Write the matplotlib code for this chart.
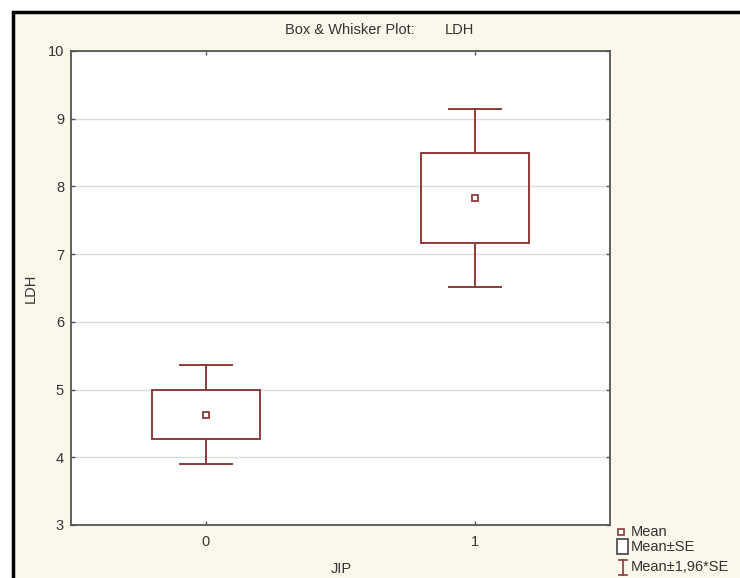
import numpy as np
import matplotlib.pyplot as plt
from matplotlib.patches import Rectangle
from matplotlib.lines import Line2D

plt.rcParams['font.family'] = ['Liberation Sans', 'DejaVu Sans']

groups = [0, 1]
tick_labels = ['0', '1']
means = [4.62, 7.83]
se_low = [4.27, 7.16]
se_high = [5.00, 8.50]
ci_low = [3.90, 6.52]
ci_high = [5.36, 9.15]

RED = '#8b3a3a'
CREAM = '#fbf7ea'
TXT = '#333333'
W, H = 740, 578


def fx(px):
    return px / W


def fy(py):
    return 1 - py / H


fig = plt.figure(figsize=(7.4, 5.78), dpi=100, facecolor='white')
# cream panel with black frame (cut off at right/bottom like the screenshot)
fig.patches.append(Rectangle((fx(13), -0.1), 1.2, fy(12) + 0.1, transform=fig.transFigure,
                             facecolor=CREAM, edgecolor='black', linewidth=2.5, zorder=-5))

ax = fig.add_axes([fx(71), fy(525), fx(610) - fx(71), fy(51) - fy(525)])
ax.set_zorder(1)
ax.set_facecolor('white')

x = np.array(groups)
ax.bar(x, np.array(se_high) - np.array(se_low), bottom=se_low, width=0.4,
       fill=False, edgecolor=RED, linewidth=1.4, zorder=3)
ax.vlines(x, se_high, ci_high, color=RED, linewidth=1.4, zorder=3)
ax.vlines(x, ci_low, se_low, color=RED, linewidth=1.4, zorder=3)
ax.hlines(ci_high, x - 0.1, x + 0.1, color=RED, linewidth=1.4, zorder=3)
ax.hlines(ci_low, x - 0.1, x + 0.1, color=RED, linewidth=1.4, zorder=3)
ax.plot(x, means, 's', markersize=5, markerfacecolor='white',
        markeredgecolor=RED, markeredgewidth=1.3, linestyle='none', zorder=4)

ax.set_xlim(-0.5, 1.5)
ax.set_ylim(3, 10)
ax.set_xticks(groups)
ax.set_xticklabels(tick_labels)
ax.set_yticks(range(3, 11))
ax.yaxis.grid(True, color='#dcdcdc', linewidth=1)
ax.set_axisbelow(True)
ax.tick_params(direction='in', length=3, width=1, color='#555555',
               top=True, right=True, labelsize=10.5, labelcolor=TXT)
ax.tick_params(axis='x', pad=7)
ax.tick_params(axis='y', pad=5)
for s in ax.spines.values():
    s.set_color('#555555')
    s.set_linewidth(1.3)

ax.set_ylabel('LDH', fontsize=10.5, color=TXT, labelpad=7)
fig.text(fx(341), fy(569), 'JIP', ha='center', va='center', fontsize=10.5, color=TXT)

fig.text(fx(285), fy(30), 'Box & Whisker Plot:', ha='left', va='center', fontsize=10.5, color=TXT)
fig.text(fx(445), fy(30), 'LDH', ha='left', va='center', fontsize=10.5, color=TXT)

# legend
fig.lines.append(Line2D([fx(621)], [fy(532)], marker='s', markersize=4.5, markerfacecolor='white',
                        markeredgecolor=RED, markeredgewidth=1.2, transform=fig.transFigure))
fig.text(fx(631), fy(532), 'Mean', ha='left', va='center', fontsize=10.5, color=TXT)
fig.patches.append(Rectangle((fx(617), fy(554)), fx(11), fy(539) - fy(554), transform=fig.transFigure,
                             facecolor='white', edgecolor='#444444', linewidth=1.2))
fig.text(fx(631), fy(547), 'Mean±SE', ha='left', va='center', fontsize=10.5, color=TXT)
fig.lines.append(Line2D([fx(623), fx(623)], [fy(560), fy(575)], color=RED, linewidth=1.2,
                        transform=fig.transFigure))
fig.lines.append(Line2D([fx(619), fx(627)], [fy(560), fy(560)], color=RED, linewidth=1.2,
                        transform=fig.transFigure))
fig.lines.append(Line2D([fx(619), fx(627)], [fy(575), fy(575)], color=RED, linewidth=1.2,
                        transform=fig.transFigure))
fig.text(fx(631), fy(567), 'Mean±1,96*SE', ha='left', va='center', fontsize=10.5, color=TXT)

fig.savefig('out.png', dpi=100, facecolor=fig.get_facecolor())
